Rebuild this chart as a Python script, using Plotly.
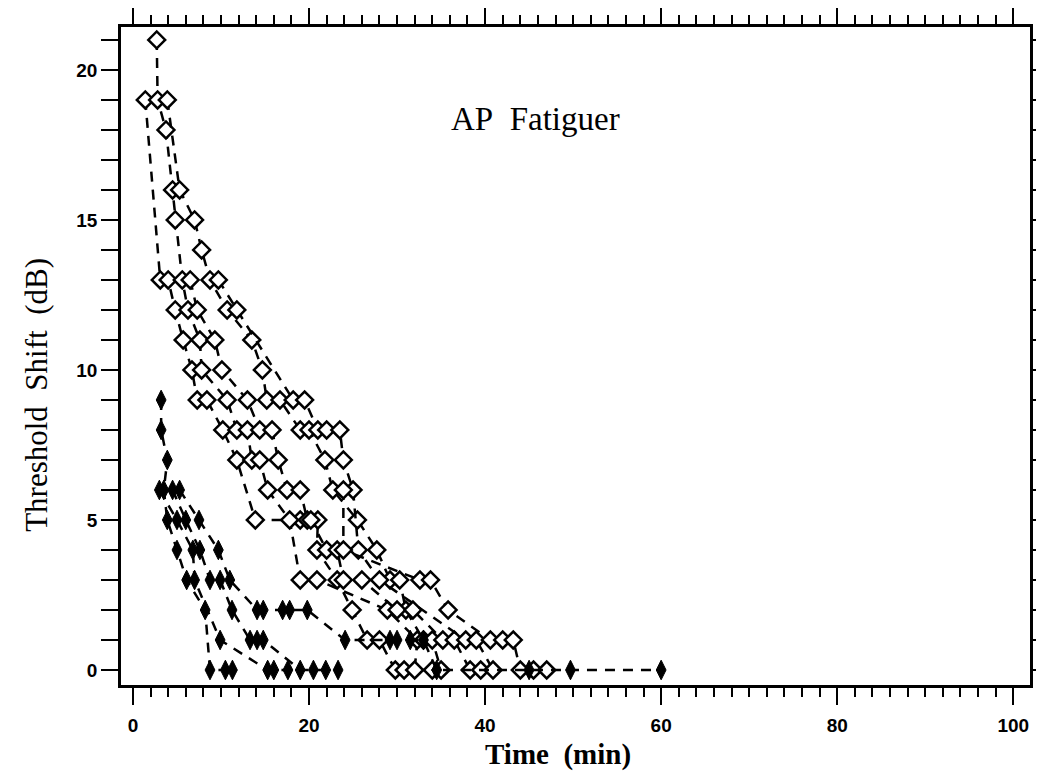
import plotly.graph_objects as go

# ---- data ----
# open-diamond series (time in min, threshold shift in dB)
o1_t = [1.4, 3.1, 4.0, 4.8, 5.7, 6.7, 7.3, 8.4, 10.2, 11.8, 13.9, 19.0, 21.0, 20.9, 23.2, 24.9, 26.6, 28.0, 29.8, 30.8]
o1_s = [19, 13, 13, 12, 11, 10, 9, 9, 8, 7, 5, 5, 5, 4, 3, 2, 1, 1, 0, 0]
o2_t = [2.7, 2.8, 3.75, 4.5, 4.8, 5.6, 6.25, 7.6, 7.8, 10.7, 11.8, 13.0, 13.5, 14.4, 15.3, 17.8, 19.0, 20.9, 28.9, 32.3, 32.0, 34.0]
o2_s = [21, 19, 18, 16, 15, 13, 12, 11, 10, 9, 8, 8, 7, 7, 6, 5, 3, 3, 2, 1, 0, 0]
o3_t = [3.9, 5.3, 7.0, 7.8, 8.75, 10.7, 13.5, 14.7, 15.2, 16.7, 19.0, 20.0, 21.8, 22.7, 25.5, 27.7, 29.2, 30.3, 31.0, 33.0, 34.0, 35.0]
o3_s = [19, 16, 15, 14, 13, 12, 11, 10, 9, 9, 8, 8, 7, 6, 5, 4, 3, 3, 2, 1, 1, 0]
o4_t = [6.5, 7.3, 9.3, 10.1, 13.0, 14.4, 15.8, 16.5, 17.5, 19.0, 19.8, 20.2, 22.0, 23.2, 23.9, 26.0, 30.0, 31.8, 35.2, 36.5, 38.3, 39.5]
o4_s = [13, 12, 11, 10, 9, 8, 8, 7, 6, 6, 5, 5, 4, 4, 3, 3, 2, 2, 1, 1, 0, 0]
o5_t = [9.7, 11.8, 18.2, 19.5, 21.0, 22.0, 23.5, 23.9, 25.0, 25.6, 28.0, 37.8, 39.0, 40.9]
o5_s = [13, 12, 9, 9, 8, 8, 8, 7, 6, 4, 3, 1, 1, 0]
o6_t = [23.9, 23.9, 32.6, 33.8, 35.8, 40.6, 42.0, 43.2, 44.0, 45.5, 47.0]
o6_s = [6, 4, 3, 3, 2, 1, 1, 1, 0, 0, 0]

# filled-diamond series
f1_t = [3.2, 3.2, 3.9, 3.5, 3.9, 5.0, 6.1, 8.2, 8.75, 10.5, 11.3]
f1_s = [9, 8, 7, 6, 5, 4, 3, 2, 0, 0, 0]
f2_t = [3.0, 5.0, 6.8, 7.0, 9.9, 15.3, 16.0, 17.6]
f2_s = [6, 5, 4, 3, 1, 0, 0, 0]
f3_t = [4.5, 6.0, 7.6, 8.75, 9.9, 11.25, 13.3, 14.1, 14.8, 19.0, 20.5, 21.9, 23.3]
f3_s = [6, 5, 4, 3, 3, 2, 1, 1, 1, 0, 0, 0, 0]
f4_t = [5.3, 7.5, 9.7, 11.0, 14.1, 14.8, 17.0, 17.8, 19.8, 24.1, 29.2, 30.0, 31.5, 33.0, 34.5, 45.0, 49.7, 60.0]
f4_s = [6, 5, 4, 3, 2, 2, 2, 2, 2, 1, 1, 1, 1, 1, 0, 0, 0, 0]

open_series = [(o1_t, o1_s), (o2_t, o2_s), (o3_t, o3_s), (o4_t, o4_s), (o5_t, o5_s), (o6_t, o6_s)]
filled_series = [(f1_t, f1_s), (f2_t, f2_s), (f3_t, f3_s), (f4_t, f4_s)]

x_ticks = [0, 20, 40, 60, 80, 100]
x_minor = list(range(0, 101, 2))
y_ticks = [0, 5, 10, 15, 20]
y_minor = list(range(0, 22, 1))

x_title = "Time\u00a0 (min)"
y_title = "Threshold\u00a0 Shift\u00a0 (dB)"
panel_label = "AP\u00a0 Fatiguer"

fig = go.Figure()
for t, s in open_series:
    fig.add_trace(go.Scatter(
        x=t, y=s, mode="lines+markers", showlegend=False,
        line=dict(color="black", width=2.5, dash="10px,8px"),
        marker=dict(symbol="diamond", size=13, color="white",
                    line=dict(color="black", width=2.5)),
    ))
for t, s in filled_series:
    fig.add_trace(go.Scatter(
        x=t, y=s, mode="lines+markers", showlegend=False,
        line=dict(color="black", width=2.5, dash="10px,8px"),
        marker=dict(symbol="diamond-tall", size=14, color="black",
                    line=dict(color="black", width=1)),
    ))
# empty trace so the overlay axis carrying the minor x ticks is drawn
fig.add_trace(go.Scatter(x=[], y=[], xaxis="x2", yaxis="y", showlegend=False, hoverinfo="skip"))

fig.add_annotation(x=45.7, y=18.35, xref="x", yref="y", text=panel_label,
                   showarrow=False,
                   font=dict(family="Liberation Serif", size=33, color="black"))
fig.add_annotation(x=0.481, y=-0.106, xref="paper", yref="paper", text=x_title,
                   showarrow=False, xanchor="center", yanchor="middle",
                   font=dict(family="Liberation Serif", size=29, color="black", weight="bold"))
fig.add_annotation(x=-0.0924, y=0.441, xref="paper", yref="paper", text=y_title,
                   showarrow=False, textangle=-90, xanchor="center", yanchor="middle",
                   font=dict(family="Liberation Serif", size=31, color="black"))

axis_common = dict(
    showline=True, linecolor="black", linewidth=2.5, mirror="allticks",
    ticks="outside", tickcolor="black", tickwidth=2, ticklen=17,
    showgrid=False, zeroline=False, automargin=False,
    tickfont=dict(family="Liberation Sans", size=19, color="black", weight="bold"),
)
fig.update_layout(
    xaxis=dict(range=[-1.36, 101.9], tickmode="array", tickvals=x_ticks,
               ticklabelstandoff=4, **axis_common),
    xaxis2=dict(overlaying="x", matches="x", anchor="y", side="bottom",
                tickmode="array", tickvals=x_minor, ticks="outside", ticklen=9,
                tickwidth=2, tickcolor="black", showticklabels=False,
                showline=True, linecolor="black", linewidth=2.5, mirror="allticks",
                showgrid=False, zeroline=False, automargin=False),
    yaxis=dict(range=[-0.5, 21.43], tickmode="array", tickvals=y_ticks,
               minor=dict(tickmode="array", tickvals=y_minor, ticks="outside", ticklen=9,
                          tickwidth=2, tickcolor="black", showgrid=False),
               **axis_common),
    width=1044, height=777,
    margin=dict(l=113, r=22, t=19, b=100),
    paper_bgcolor="white", plot_bgcolor="white",
)
fig.write_html("out.html")
